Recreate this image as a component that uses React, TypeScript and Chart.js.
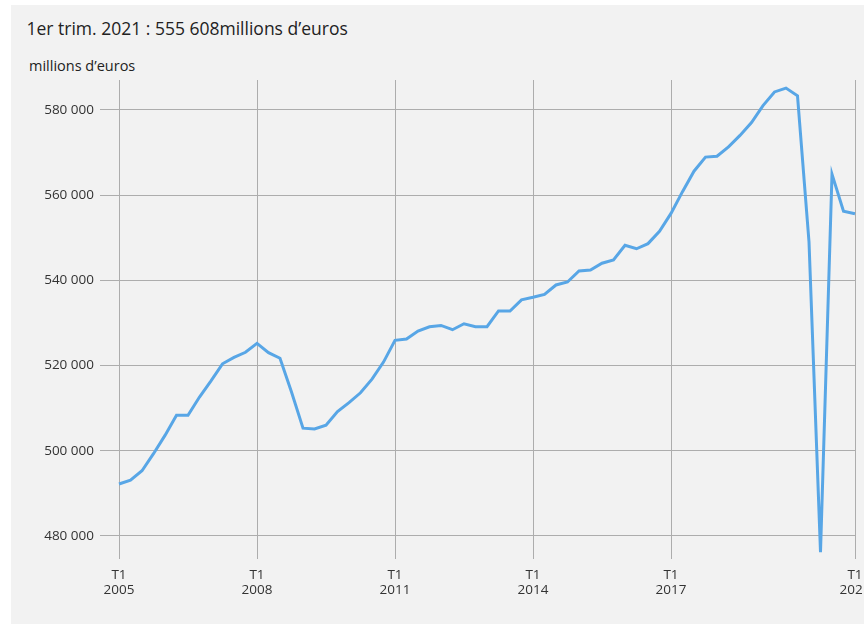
import { useEffect, useRef } from 'react';
import { Chart, registerables } from 'chart.js';

Chart.register(...registerables);

// ---- data ----
const years = [2005, 2006, 2007, 2008, 2009, 2010, 2011, 2012, 2013, 2014, 2015, 2016, 2017, 2018, 2019, 2020, 2021];
const quarters = ['T1', 'T2', 'T3', 'T4'];

const values = [
  492200, 493100, 495300, 499300, 503600, 508300, 508300, 512600, 516400, 520400, 521900, 523100,
  525200, 523000, 521700, 513800, 505300, 505100, 506000, 509200, 511300, 513600, 516800, 520800,
  525900, 526200, 528100, 529100, 529400, 528400, 529800, 529100, 529100, 532800, 532800, 535400,
  536000, 536700, 538900, 539600, 542200, 542400, 544000, 544800, 548200, 547400, 548600, 551500,
  555700, 560800, 565600, 568900, 569100, 571300, 574000, 577000, 581000, 584200, 585100, 583300,
  549000, 476200, 564900, 556200, 555608,
];

const shownTickLabels = ['T1 2005', 'T1 2008', 'T1 2011', 'T1 2014', 'T1 2017', 'T1 2021'];
const yTickValues = [480000, 500000, 520000, 540000, 560000, 580000];
const yMin = 476000;
const yMax = 587000;

const titleText = '1er trim. 2021 : 555 608millions d\u2019euros';
const unitText = 'millions d\u2019euros';

const categories: string[][] = [];
years.forEach((y) => quarters.forEach((q) => categories.push([q, String(y)])));
const labels = categories.slice(0, values.length);

const fmt = (v: number) => String(Math.round(v)).replace(/\B(?=(\d{3})+(?!\d))/g, ' ');

const GRID = '#adadad';
const FONT = "'Open Sans', sans-serif";

export default function App() {
  const ref = useRef<HTMLCanvasElement | null>(null);

  useEffect(() => {
    if (!ref.current) return;
    const chart = new Chart(ref.current, {
      type: 'line',
      data: {
        labels,
        datasets: [
          {
            data: values,
            borderColor: '#58a6e6',
            borderWidth: 3,
            pointRadius: 0,
            pointHoverRadius: 0,
            tension: 0,
            fill: false,
          },
        ],
      },
      options: {
        responsive: false,
        animation: false,
        layout: { padding: { top: 20, right: 56, bottom: 0, left: 0 } },
        plugins: { legend: { display: false }, tooltip: { enabled: false } },
        scales: {
          x: {
            type: 'category',
            offset: false,
            border: { display: false },
            grid: { color: GRID, lineWidth: 1, tickLength: 6 },
            ticks: {
              autoSkip: false,
              maxRotation: 0,
              minRotation: 0,
              padding: 8,
              color: '#333',
              font: { family: FONT, size: 13.5, lineHeight: 1.16 },
            },
            afterBuildTicks: (scale: any) => {
              scale.ticks = scale.ticks.filter((t: any) =>
                shownTickLabels.includes(labels[t.value].join(' '))
              );
            },
            afterFit: (scale: any) => {
              scale.height = 50;
            },
          },
          y: {
            min: yMin,
            max: yMax,
            border: { display: false },
            grid: { color: GRID, lineWidth: 1, tickLength: 19 },
            ticks: {
              padding: 6,
              color: '#333',
              font: { family: FONT, size: 13.5 },
              callback: (v: any) => fmt(Number(v)),
            },
            afterBuildTicks: (scale: any) => {
              scale.ticks = yTickValues.map((v) => ({ value: v }));
            },
            afterFit: (scale: any) => {
              scale.width = 108;
            },
          },
        },
      },
    });
    return () => chart.destroy();
  }, []);

  return (
    <div style={{ position: 'fixed', left: 0, top: 0, width: 864, height: 624, background: '#ffffff', overflow: 'hidden' }}>
      <div
        style={{
          position: 'absolute',
          left: 11,
          top: 5,
          width: 853,
          height: 619,
          background: '#f2f2f2',
          overflow: 'hidden',
        }}
      >
        <div
          style={{
            position: 'absolute',
            left: 15.5,
            top: 11,
            fontFamily: FONT,
            fontSize: 17.5,
            lineHeight: '24px',
            color: '#222',
            whiteSpace: 'nowrap',
          }}
        >
          {titleText}
        </div>
        <div
          style={{
            position: 'absolute',
            left: 18,
            top: 51,
            fontFamily: FONT,
            fontSize: 14.5,
            lineHeight: '20px',
            color: '#222',
            whiteSpace: 'nowrap',
          }}
        >
          {unitText}
        </div>
        <canvas
          ref={ref}
          width={900}
          height={543}
          style={{ position: 'absolute', left: 0, top: 55, width: 900, height: 543 }}
        />
      </div>
    </div>
  );
}
